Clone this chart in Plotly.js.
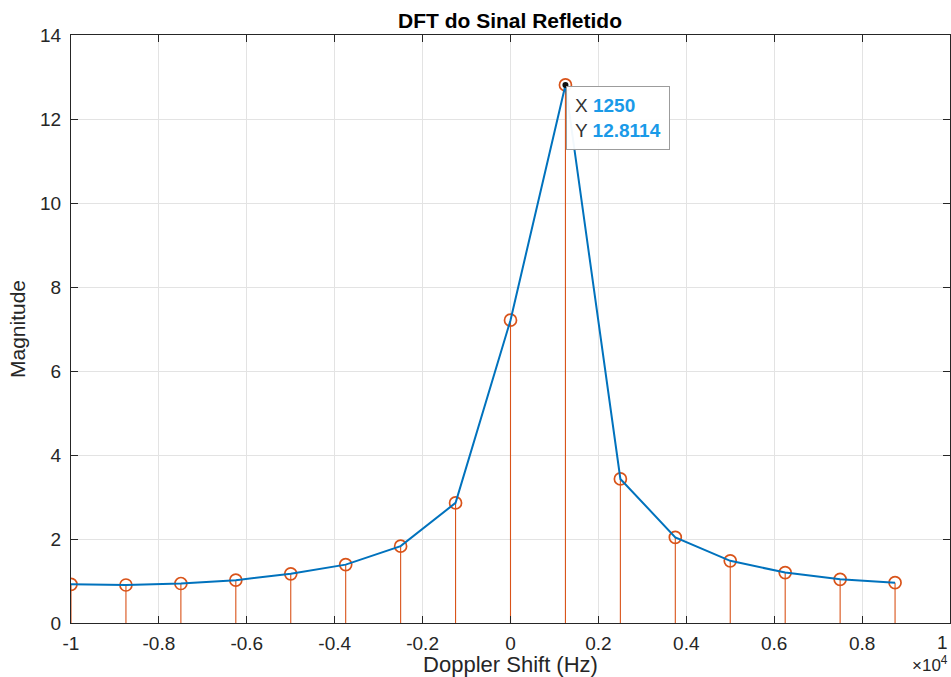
<!DOCTYPE html>
<html>
<head>
<meta charset="utf-8">
<script src="https://cdn.plot.ly/plotly-3.0.1.min.js"></script>
<style>html,body{margin:0;padding:0;background:#fff;}#chart{width:951px;height:677px;}</style>
</head>
<body>
<div id="chart"></div>
<script>
// Doppler shift bins (Hz)
const dopplerHz = [-10000, -8750, -7500, -6250, -5000, -3750, -2500, -1250, 0, 1250, 2500, 3750, 5000, 6250, 7500, 8750];
// DFT magnitude
const magnitude = [0.92, 0.905, 0.94, 1.02, 1.17, 1.39, 1.83, 2.86, 7.21, 12.8114, 3.43, 2.04, 1.48, 1.20, 1.04, 0.96];
// x tick positions and labels (axis scaled by 10^4)
const xTickVals = [-10000, -8000, -6000, -4000, -2000, 0, 2000, 4000, 6000, 8000, 10000];
const xTickText = ["-1", "-0.8", "-0.6", "-0.4", "-0.2", "0", "0.2", "0.4", "0.6", "0.8", "1"];
const yTickVals = [0, 2, 4, 6, 8, 10, 12, 14];
// data tip
const tipIndex = 9;
const tipX = dopplerHz[tipIndex];
const tipY = magnitude[tipIndex];

const blue = '#0072BD';
const orange = '#D95319';
const zeros = magnitude.map(() => 0);
const lastTick = xTickVals.length - 1;

const traces = [
  {
    x: dopplerHz, y: magnitude, type: 'scatter', mode: 'markers',
    marker: {symbol: 'circle-open', size: 12, color: orange, line: {width: 1.7, color: orange}},
    error_y: {type: 'data', symmetric: false, array: zeros, arrayminus: magnitude, width: 0, thickness: 1.1, color: orange},
    hoverinfo: 'skip'
  },
  {
    x: dopplerHz, y: magnitude, type: 'scatter', mode: 'lines',
    line: {color: blue, width: 2},
    hoverinfo: 'skip'
  },
  {
    x: [tipX], y: [tipY], type: 'scatter', mode: 'markers',
    marker: {symbol: 'circle', size: 6, color: '#111'},
    hoverinfo: 'skip'
  }
];

const fam = 'Liberation Sans, Arial, sans-serif';
const tickFont = {family: fam, size: 19, color: '#262626'};
const titleFont = {family: fam, size: 21, color: '#262626'};

const layout = {
  width: 951, height: 677,
  margin: {l: 71, r: 1, t: 35, b: 54},
  paper_bgcolor: '#ffffff', plot_bgcolor: '#ffffff',
  showlegend: false,
  title: {
    text: '<b>DFT do Sinal Refletido</b>',
    font: {family: fam, size: 21, color: '#000'},
    x: 0.5363, xanchor: 'center', y: 0.9695, yanchor: 'middle', xref: 'container', yref: 'container'
  },
  xaxis: {
    range: [-10000, 10000],
    tickmode: 'array', tickvals: xTickVals.slice(0, lastTick), ticktext: xTickText.slice(0, lastTick),
    ticks: 'inside', ticklen: 7, tickcolor: '#262626', tickwidth: 1,
    showgrid: true, gridcolor: '#e3e3e3', gridwidth: 1,
    zeroline: false,
    showline: true, linecolor: '#262626', linewidth: 1, mirror: 'ticks',
    tickfont: tickFont, ticklabelstandoff: 3,
    title: {text: 'Doppler Shift (Hz)', font: {family: fam, size: 22, color: '#262626'}, standoff: 4},
    automargin: false
  },
  yaxis: {
    range: [0, 14],
    tickmode: 'array', tickvals: yTickVals,
    ticks: 'inside', ticklen: 7, tickcolor: '#262626', tickwidth: 1,
    showgrid: true, gridcolor: '#e3e3e3', gridwidth: 1,
    zeroline: false,
    showline: true, linecolor: '#262626', linewidth: 1, mirror: 'ticks',
    tickfont: tickFont, ticklabelstandoff: 5,
    title: {text: 'Magnitude', font: titleFont, standoff: 8},
    automargin: false
  },
  annotations: [
    {
      xref: 'x', yref: 'y', x: tipX, y: tipY,
      showarrow: false, xanchor: 'left', yanchor: 'top', xshift: 1, yshift: -1,
      align: 'left',
      text: 'X <b><span style="color:#1a9ae8">' + tipX + '</span></b><br>Y <b><span style="color:#1a9ae8">' + tipY + '</span></b>',
      font: {family: fam, size: 19, color: '#333333'},
      bgcolor: 'rgba(255,255,255,0.95)', bordercolor: '#9c9c9c', borderwidth: 1, borderpad: 8
    },
    {
      xref: 'x', yref: 'paper', x: xTickVals[lastTick], y: 0, xanchor: 'right', yanchor: 'middle', yshift: -19,
      showarrow: false, text: xTickText[lastTick], font: tickFont
    },
    {
      xref: 'paper', yref: 'paper', x: 1, y: 0, xanchor: 'right', yanchor: 'bottom', yshift: -54, xshift: 0,
      showarrow: false,
      text: '×10<sup>4</sup>',
      font: {family: fam, size: 17, color: '#262626'}
    }
  ]
};

Plotly.newPlot('chart', traces, layout, {displayModeBar: false, staticPlot: true});
</script>
</body>
</html>
